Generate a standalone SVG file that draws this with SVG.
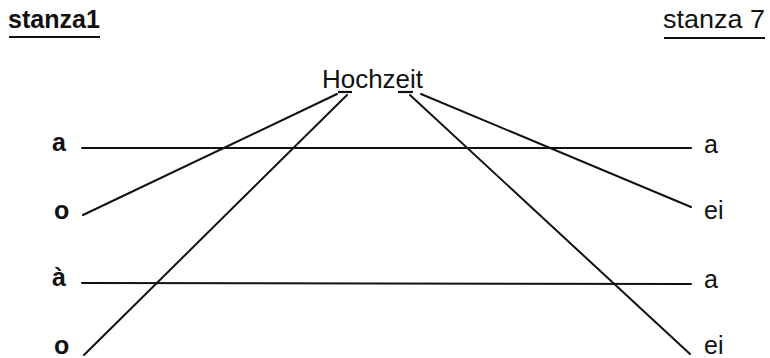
<svg xmlns="http://www.w3.org/2000/svg" width="770" height="358" viewBox="0 0 770 358">
<style>
.hd{font-family:"Liberation Sans",Arial,sans-serif;font-size:26px;fill:#111;}
.lb{font-family:"Liberation Sans",Arial,sans-serif;font-size:25px;fill:#111;}
.lbl{font-family:"Liberation Sans",Arial,sans-serif;font-size:25px;font-weight:bold;fill:#111;}
.ln{stroke:#111;stroke-width:2;fill:none;stroke-linecap:round;}
.ul{stroke:#111;stroke-width:2.2;fill:none;}
</style>
<rect width="770" height="358" fill="#fff"/>
<g id="header-left">
<text class="hd" x="8" y="28" textLength="92" lengthAdjust="spacingAndGlyphs" style="font-weight:bold">stanza1</text>
<line class="ul" x1="9" y1="37" x2="100" y2="37"/>
</g>
<g id="header-right">
<text class="hd" x="663" y="28" textLength="102" lengthAdjust="spacingAndGlyphs">stanza 7</text>
<line class="ul" x1="664" y1="38" x2="765" y2="38"/>
</g>
<g id="hochzeit">
<text class="hd" x="322" y="88" style="font-size:25px" textLength="101" lengthAdjust="spacingAndGlyphs">Hochzeit</text>
<line class="ul" x1="338" y1="92" x2="352" y2="92"/>
<line class="ul" x1="398" y1="92" x2="413" y2="92"/>
</g>
<g id="left-labels">
<text class="lbl" x="52" y="151">a</text>
<text class="lbl" x="54" y="219">o</text>
<text class="lbl" x="52" y="286">à</text>
<text class="lbl" x="54" y="354">o</text>
</g>
<g id="right-labels">
<text class="lb" x="704" y="153">a</text>
<text class="lb" x="704" y="219">ei</text>
<text class="lb" x="704" y="288">a</text>
<text class="lb" x="704" y="354">ei</text>
</g>
<g id="connectors">
<line class="ln" x1="82" y1="148" x2="691" y2="148"/>
<line class="ln" x1="82" y1="283" x2="691" y2="284"/>
<line class="ln" x1="337" y1="94" x2="83" y2="215"/>
<line class="ln" x1="347" y1="95" x2="84" y2="355"/>
<line class="ln" x1="410" y1="95" x2="690" y2="354"/>
<line class="ln" x1="421" y1="94" x2="691" y2="207"/>
</g>
</svg>
